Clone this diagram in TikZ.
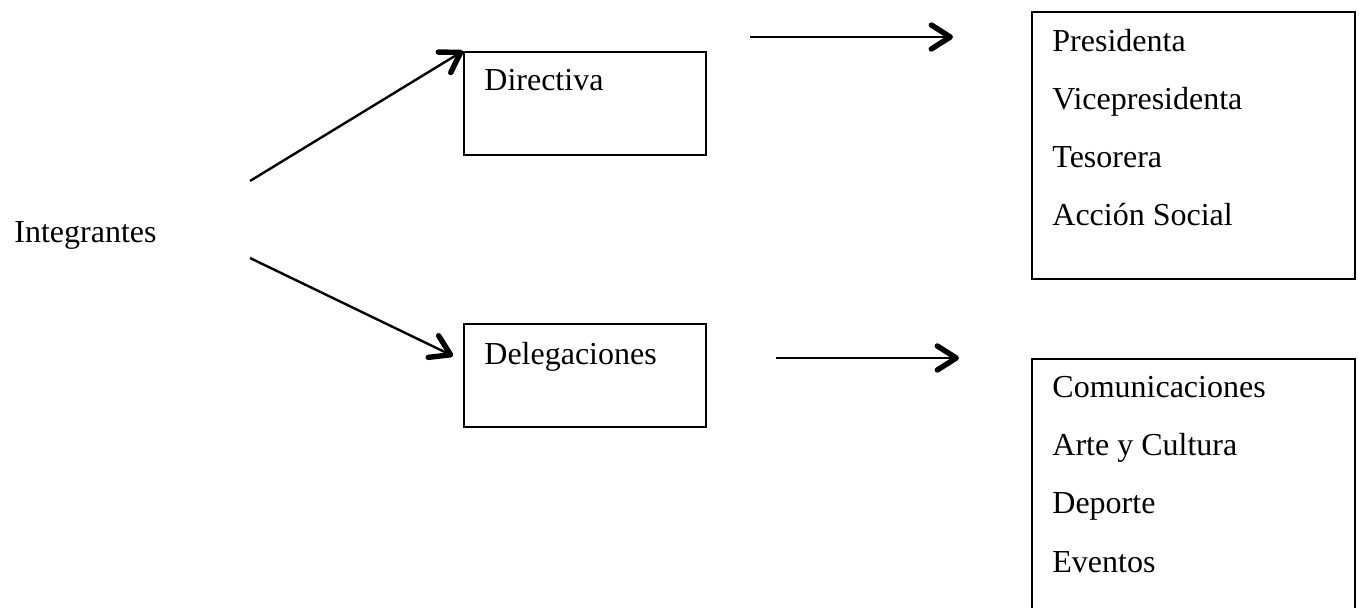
\documentclass[tikz,border=0pt]{standalone}
\usepackage{fontspec}
\setmainfont{Liberation Serif}
\usetikzlibrary{arrows.meta,positioning}

\tikzset{
  box/.style={draw,line width=0.8pt,anchor=north west,inner sep=0pt},
  item/.style={anchor=base west,inner sep=0pt,font=\fontsize{16}{19}\selectfont},
  arr/.style={line width=1.2pt,-{Straight Barb[length=9.5pt,width=12pt,line width=2.7pt,round]}}
}

\begin{document}
\begin{tikzpicture}
  [x=0.5pt,y=-0.5pt]
  \useasboundingbox (0,0) rectangle (1359,608);

  \node[item] (integ) at (14,243) {Integrantes};

  \node[box,minimum width=121pt,minimum height=51.5pt] (dir) at (463,51) {};
  \node[box,minimum width=121pt,minimum height=51.5pt] (del) at (463,323) {};
  \node[item] (dirtxt) at ([shift={(21,40)}]dir.north west) {Directiva};
  \node[item] (deltxt) at ([shift={(21,42)}]del.north west) {Delegaciones};

  \node[box,minimum width=161.5pt,minimum height=133.5pt] (dirlist) at (1031,11) {};
  \node[box,minimum width=161.5pt,minimum height=133.5pt] (dellist) at (1031,358) {};

  \foreach \name [count=\i] in {Presidenta, Vicepresidenta, Tesorera, Acción Social}
    \node[item] (dirl\i) at ([shift={(21,{41+58*(\i-1)})}]dirlist.north west) {\name};
  \foreach \name [count=\i] in {Comunicaciones, Arte y Cultura, Deporte, Eventos}
    \node[item] (dell\i) at ([shift={(21,{40+58*(\i-1)})}]dellist.north west) {\name};

  \coordinate (up0) at (250,181);
  \coordinate (lo0) at (250,258);
  \coordinate (lo1) at (453,356);
  \coordinate (h1a) at (750,37);
  \coordinate (h1b) at (953,37);
  \coordinate (h2a) at (776,358);
  \coordinate (h2b) at (959,358);

  \draw[arr] (up0) -- (dir.north west);
  \draw[arr] (lo0) -- (lo1);
  \draw[arr] (h1a) -- (h1b);
  \draw[arr] (h2a) -- (h2b);

\end{tikzpicture}
\end{document}
